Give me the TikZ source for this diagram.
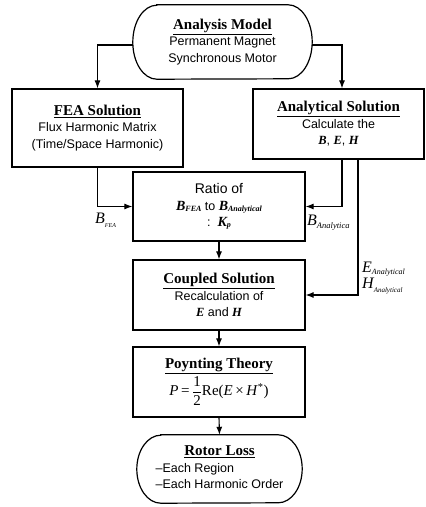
\documentclass[tikz,border=0pt]{standalone}
\usepackage{fontspec}
\setmainfont{Liberation Serif}
\newfontfamily\sansf{Liberation Sans}
\usetikzlibrary{arrows.meta,calc}
\newcommand\hd[1]{{\rmfamily\fontsize{15}{17}\selectfont\bfseries\underline{#1}}}
\newcommand\bi[1]{{\rmfamily\bfseries\itshape #1}}
\newcommand\bsub[2]{{\rmfamily\bfseries\itshape\fontsize{14}{14}\selectfont #1\raisebox{-1pt}{\fontsize{8}{8}\selectfont #2}}}
\newcommand\lab[4]{{\rmfamily\itshape\fontsize{16}{16}\selectfont #1\raisebox{-#4}{\fontsize{#3}{#3}\selectfont #2}}}
\tikzset{
  box/.style={draw, line width=1.2pt, inner sep=0pt, align=center,
    font=\sansf\fontsize{12.5}{16.5}\selectfont},
  stad/.style={inner sep=0pt, align=center,
    font=\sansf\fontsize{12.5}{16.5}\selectfont},
  conn/.style={line width=1.1pt, -{Latex[length=8pt,width=6pt]}},
  lbl/.style={inner sep=0pt, anchor=base west}
}
\begin{document}
\begin{tikzpicture}[x=1pt,y=-1pt]
\useasboundingbox[fill=white] (0,0) rectangle (426,507);
% nodes
\node[stad, minimum width=179pt, minimum height=74pt] (model) at (222.5,42)
  {\hd{Analysis Model}\\Permanent Magnet\\Synchronous Motor};
\draw[line width=1.2pt] ([xshift=24pt]model.north west) -- ([xshift=-24pt]model.north east)
  arc[start angle=90, end angle=-90, x radius=24pt, y radius=37pt]
  -- ([xshift=24pt]model.south west)
  arc[start angle=270, end angle=90, x radius=24pt, y radius=37pt] -- cycle;

\node[box, minimum width=171pt, minimum height=78pt] (fea) at (97.5,128)
  {\hd{FEA Solution}\\Flux Harmonic Matrix\\(Time/Space Harmonic)};
\node[box, minimum width=171pt, minimum height=70pt] (ana) at (338.5,124)
  {\hd{Analytical Solution}\\Calculate the\\\bi{B}, \bi{E}, \bi{H}};
\node[box, minimum width=172pt, minimum height=69pt] (ratio) at (219,206.5)
  {{\fontsize{14}{19}\selectfont Ratio of}\\\bsub{B}{FEA} to \bsub{B}{Analytical}\\:\ \ \bsub{K}{p}};
\node[box, minimum width=172pt, minimum height=70pt] (coupled) at (219,295)
  {\hd{Coupled Solution}\\Recalculation of\\\bi{E} and \bi{H}};
\node[box, minimum width=172pt, minimum height=70pt] (poynt) at (219,382)
  {\hd{Poynting Theory}\\[1pt]{\rmfamily\fontsize{15}{15}\selectfont\textit{P}\,=\,$\displaystyle\frac{\mbox{1}}{\mbox{2}}$Re(\textit{E}\,×\,\textit{H}\textsuperscript{*})}};
\node[stad, minimum width=165pt, minimum height=68pt] (rotor) at (219.5,469)
  {\begin{tabular}{@{}l@{}}\multicolumn{1}{@{}c@{}}{\hd{Rotor Loss}}\\–Each Region\\–Each Harmonic Order\end{tabular}};
\draw[line width=1.2pt] ([xshift=24pt]rotor.north west) -- ([xshift=-24pt]rotor.north east)
  arc[start angle=90, end angle=-90, x radius=24pt, y radius=34pt]
  -- ([xshift=24pt]rotor.south west)
  arc[start angle=270, end angle=90, x radius=24pt, y radius=34pt] -- cycle;

% connectors
\draw[conn] ([yshift=-3pt]model.west) -| (fea.north);
\draw[conn] ([yshift=-3pt]model.east) -| ([xshift=3.5pt]ana.north);
\draw[conn] (fea.south) |- (ratio.west);
\draw[conn] ([xshift=3.5pt]ana.south) |- (ratio.east);
\draw[conn] ([xshift=19.5pt]ana.south) |- (coupled.east);
\draw[conn] (ratio.south) -- (coupled.north);
\draw[conn] (coupled.south) -- (poynt.north);
\draw[conn] (poynt.south) -- (rotor.north);

% labels
\node[lbl] (lbfea) at (95,223) {\lab{B}{FEA}{6}{4pt}};
\node[lbl] (lbana) at (307,225) {\lab{B}{Analytica}{8.5}{3pt}};
\node[lbl] (lean) at (362,272) {\lab{E}{Analytical}{8}{2pt}};
\node[lbl] (lhan) at (362,288) {\lab{H}{Analytical}{7}{4pt}};
\end{tikzpicture}
\end{document}
